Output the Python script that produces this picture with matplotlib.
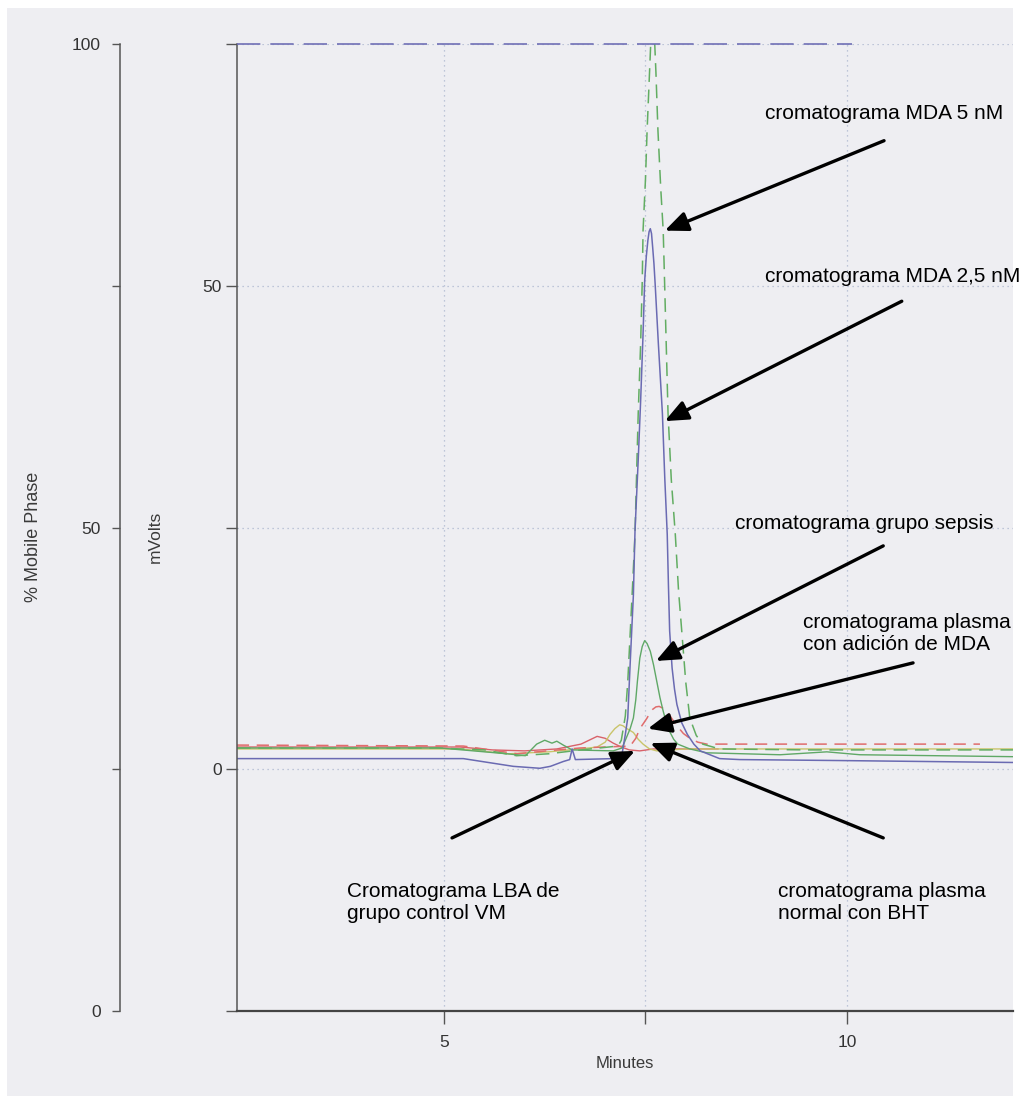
import matplotlib
matplotlib.use("Agg")
import matplotlib.pyplot as plt
from matplotlib.patches import Rectangle

plt.rcParams['font.family'] = ['Liberation Sans', 'DejaVu Sans']

# ---- data (minutes, mVolts) ----
# MDA 5 nM standard (green dashed, peak goes off scale)
t_5nm = [2.43, 4.9, 5.5, 5.9, 6.3, 6.7, 7.16, 7.20, 7.25, 7.28, 7.31, 7.34, 7.37,
         7.41, 7.44, 7.46, 7.47, 7.50, 7.52, 7.55, 7.59, 7.63, 7.655, 7.69, 7.72,
         7.74, 7.78, 7.82, 7.87, 7.91, 7.95, 8.00, 8.05, 8.13, 8.21, 8.42, 9.5, 12.06]
mv_5nm = [2.2, 2.2, 2.0, 1.4, 1.6, 2.0, 2.4, 3.0, 5.5, 9.0, 14.0, 19.0, 24.3,
          36.8, 44.0, 50.5, 55.7, 61.0, 66.0, 72.0, 80.0, 72.0, 66.0, 60.0, 55.7,
          49.5, 36.8, 30.0, 24.3, 18.5, 14.3, 9.0, 5.3, 3.5, 2.6, 2.1, 2.0, 2.0]

# MDA 2,5 nM standard (blue solid)
t_25nm = [2.43, 5.24, 5.86, 6.19, 6.32, 6.48, 6.56, 6.59, 6.63, 7.10, 7.21, 7.25,
          7.28, 7.31, 7.35, 7.37, 7.41, 7.44, 7.47, 7.49, 7.51, 7.53, 7.545, 7.56,
          7.575, 7.59, 7.605, 7.62, 7.66, 7.71, 7.74, 7.77, 7.785, 7.80, 7.83, 7.86,
          7.89, 7.95, 8.02, 8.10, 8.18, 8.42, 8.67, 9.91, 12.06]
mv_25nm = [1.1, 1.1, 0.3, 0.1, 0.3, 0.8, 1.0, 2.1, 1.0, 1.1, 1.6, 3.6,
           5.3, 10.9, 18.0, 24.6, 32.0, 38.1, 45.0, 50.5, 53.0, 54.7, 55.6, 55.9,
           55.4, 53.9, 52.3, 50.2, 44.0, 36.8, 30.0, 24.3, 19.0, 14.3, 10.5, 8.3,
           6.7, 4.8, 3.6, 2.6, 1.9, 1.1, 1.0, 0.9, 0.7]

# grupo sepsis (green solid)
t_sepsis = [2.43, 4.95, 5.78, 6.01, 6.15, 6.25, 6.34, 6.40, 6.48, 6.59, 7.10, 7.21,
            7.27, 7.31, 7.35, 7.38, 7.40, 7.43, 7.46, 7.49, 7.52, 7.56, 7.60, 7.64,
            7.68, 7.72, 7.76, 7.80, 7.85, 7.90, 8.05, 8.26, 9.17, 9.75, 10.16, 12.06]
mv_sepsis = [2.2, 2.2, 1.6, 1.4, 2.6, 3.0, 2.7, 2.9, 2.5, 2.0, 1.9, 2.2,
             3.4, 4.2, 5.3, 7.2, 9.1, 11.5, 12.7, 13.3, 13.0, 12.2, 10.8, 9.1,
             7.4, 6.0, 4.8, 3.9, 3.1, 2.6, 2.1, 1.7, 1.5, 1.8, 1.5, 1.3]

# plasma con adicion de MDA (red dashed)
t_plasma_mda = [2.43, 5.24, 5.66, 5.91, 6.28, 6.69, 7.31, 7.38, 7.43, 7.48, 7.52,
                7.56, 7.59, 7.63, 7.67, 7.72, 7.77, 7.83, 7.89, 7.97, 8.05, 8.15,
                8.26, 11.65]
mv_plasma_mda = [2.5, 2.4, 1.9, 1.6, 1.9, 2.2, 2.4, 3.2, 4.2, 4.8, 5.3,
                 5.9, 6.2, 6.45, 6.5, 6.3, 6.0, 5.2, 4.5, 3.7, 3.2, 2.8,
                 2.6, 2.6]

# LBA grupo control VM (red solid)
t_lba = [2.43, 5.2, 5.6, 6.0, 6.4, 6.7, 6.8, 6.9, 7.0, 7.1, 7.2, 7.3, 7.43, 7.6, 8.4]
mv_lba = [2.3, 2.3, 2.0, 1.9, 2.1, 2.6, 3.0, 3.4, 3.2, 2.7, 2.3, 2.0, 1.9, 2.1, 2.1]

# plasma normal con BHT (yellow solid)
t_bht = [2.43, 5.2, 5.8, 6.3, 6.8, 6.9, 7.0, 7.06, 7.12, 7.18, 7.22, 7.27, 7.35,
         7.41, 7.47, 7.55, 7.64, 8.0, 12.06]
mv_bht = [2.1, 2.1, 1.6, 1.8, 2.2, 2.3, 2.8, 3.6, 4.2, 4.6, 4.5, 4.2, 3.8,
          3.1, 2.6, 2.1, 1.9, 2.1, 2.1]

# mobile phase program (% B)
t_phase = [2.43, 10.06]
pct_phase = [100, 100]

x_ticks = [5, 7.5, 10]
x_ticklabels = ['5', '', '10']
mv_ticks = [-25, 0, 25, 50, 75]
mv_ticklabels = ['', '0', '', '50', '']
pct_ticks = [0, 25, 50, 75, 100]
pct_ticklabels = ['0', '', '50', '', '100']

# annotations: text, text anchor (left, centre), arrow tail, arrow tip
notes = [
    ('cromatograma MDA 5 nM', (8.98, 67.8), (10.46, 65.0), (7.74, 55.7)),
    ('cromatograma MDA 2,5 nM', (8.98, 51.0), (10.68, 48.4), (7.74, 36.0)),
    ('cromatograma grupo sepsis', (8.61, 25.4), (10.45, 23.1), (7.63, 11.2)),
    ('cromatograma plasma\ncon adición de MDA', (9.45, 14.0), (10.82, 11.0), (7.53, 4.2)),
    ('cromatograma plasma\nnormal con BHT', (9.14, -13.8), (10.45, -7.1), (7.56, 2.7)),
    ('Cromatograma LBA de\ngrupo control VM', (3.80, -13.8), (5.10, -7.1), (7.37, 1.9)),
]

W, H = 1031, 1096
fig = plt.figure(figsize=(W / 100, H / 100), dpi=100)
fig.patch.set_facecolor('white')
fig.add_artist(Rectangle((7 / W, 0), (1013 - 7) / W, (H - 8) / H,
                         transform=fig.transFigure, facecolor='#eeeef2',
                         edgecolor='none', zorder=-10))

ax = fig.add_axes([237 / W, (H - 1011) / H, (1013 - 237) / W, (1011 - 44) / H])
ax.patch.set_alpha(0)
ax.set_xlim(2.432, 12.06)
ax.set_ylim(-25, 75)

axis_col = '#555555'
for s in ['top', 'right']:
    ax.spines[s].set_visible(False)
ax.spines['left'].set_color(axis_col)
ax.spines['left'].set_linewidth(1.1)
ax.spines['bottom'].set_color('#444444')
ax.spines['bottom'].set_linewidth(1.6)

ax.grid(True, linestyle=(0, (1, 3)), color='#aeb8d0', linewidth=0.9)
ax.set_axisbelow(True)

ax.set_xticks(x_ticks)
ax.set_xticklabels(x_ticklabels)
ax.set_yticks(mv_ticks)
ax.set_yticklabels(mv_ticklabels)
ax.tick_params(axis='x', direction='out', length=9, width=1, color=axis_col,
               labelsize=12.5, labelcolor='#333333', pad=8)
ax.tick_params(axis='y', direction='out', length=8, width=1, color=axis_col,
               labelsize=12.5, labelcolor='#333333', pad=3)

ax.set_xlabel('Minutes', fontsize=12, color='#3a3a3a')
ax.xaxis.set_label_coords(0.5, -0.047)
ax.set_ylabel('mVolts', fontsize=12.5, color='#3a3a3a')
ax.yaxis.set_label_coords(-0.095, 0.49)

# traces
ax.plot(t_lba, mv_lba, color='#d9626a', lw=1.0)
ax.plot(t_bht, mv_bht, color='#c9c46a', lw=1.0)
ax.plot(t_plasma_mda, mv_plasma_mda, color='#e06c6c', lw=1.1, dashes=(8, 5))
ax.plot(t_sepsis, mv_sepsis, color='#5fa866', lw=1.0)
ax.plot(t_5nm, mv_5nm, color='#62ad62', lw=1.1, dashes=(9, 5))
ax.plot(t_25nm, mv_25nm, color='#6a6ab2', lw=1.1)

# % mobile phase axis
ax_mp = ax.twinx()
ax_mp.set_ylim(0, 100)
ax_mp.yaxis.tick_left()
ax_mp.yaxis.set_label_position('left')
for s in ['top', 'right', 'bottom']:
    ax_mp.spines[s].set_visible(False)
ax_mp.spines['left'].set_position(('outward', 84.2))
ax_mp.spines['left'].set_color(axis_col)
ax_mp.spines['left'].set_linewidth(1.1)
ax_mp.set_yticks(pct_ticks)
ax_mp.set_yticklabels(pct_ticklabels)
ax_mp.tick_params(axis='y', direction='out', length=6, width=1, color=axis_col,
                  labelsize=12.5, labelcolor='#333333', pad=8)
ax_mp.set_ylabel('% Mobile Phase', fontsize=13, color='#3a3a3a')
ax_mp.yaxis.set_label_coords(-0.251, 0.49)
ax_mp.plot(t_phase, pct_phase, color='#6f6fb5', lw=1.2, dashes=(14, 6), clip_on=False)

# labels and arrows
for text, pos, tail, tip in notes:
    ax.text(pos[0], pos[1], text, fontsize=15, color='black', ha='left',
            va='center', linespacing=1.2, clip_on=False)
    ax.annotate('', xy=tip, xytext=tail, annotation_clip=False,
                arrowprops=dict(arrowstyle='-|>,head_length=0.7,head_width=0.3',
                                mutation_scale=20, lw=2.4, color='black',
                                shrinkA=0, shrinkB=0))

fig.savefig('out.png', dpi=100, facecolor=fig.get_facecolor())
